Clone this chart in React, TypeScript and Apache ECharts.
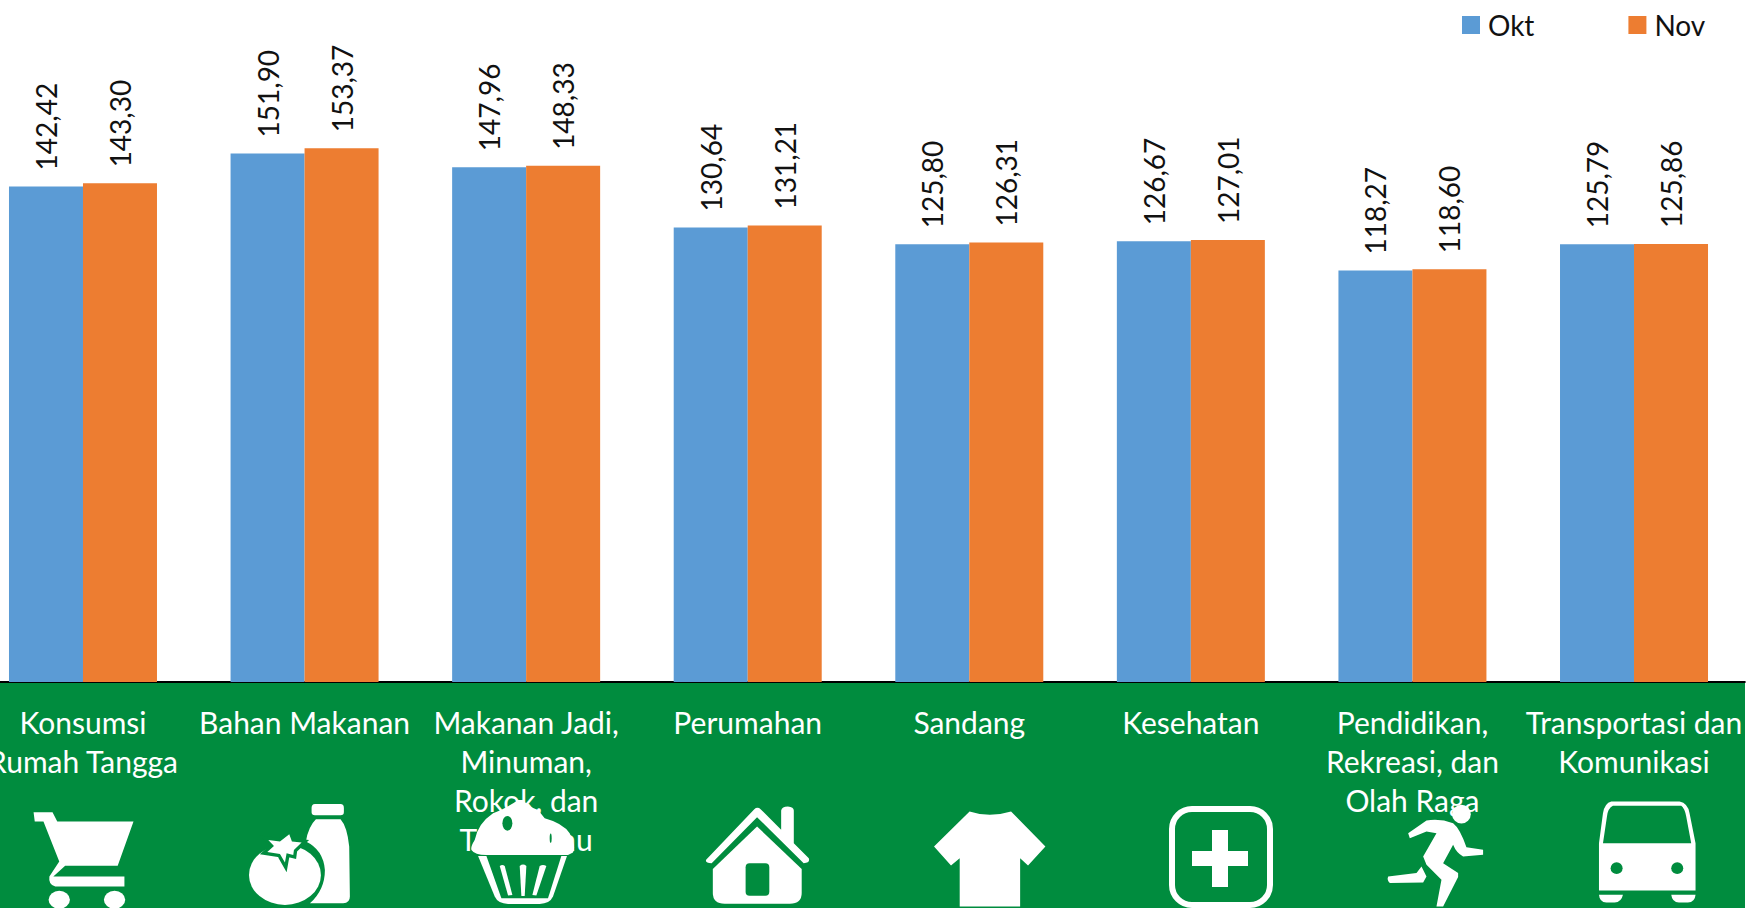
import React, { useEffect, useRef } from "react";
import * as echarts from "echarts";

const categories = [
  "Konsumsi\nRumah Tangga",
  "Bahan Makanan",
  "Makanan Jadi,\nMinuman,\nRokok, dan\nTembakau",
  "Perumahan",
  "Sandang",
  "Kesehatan",
  "Pendidikan,\nRekreasi, dan\nOlah Raga",
  "Transportasi dan\nKomunikasi",
];
const okt = [142.42, 151.9, 147.96, 130.64, 125.8, 126.67, 118.27, 125.79];
const nov = [143.3, 153.37, 148.33, 131.21, 126.31, 127.01, 118.6, 125.86];

const FONT = "Lato, Carlito, sans-serif";
const GREEN = "#008C3E";
const WHITE = "#ffffff";

const ellipse = (cx: number, cy: number, rx: number, ry: number) =>
  `M${cx - rx} ${cy}A${rx} ${ry} 0 1 0 ${cx + rx} ${cy}A${rx} ${ry} 0 1 0 ${cx - rx} ${cy}Z`;

type Layer = { d: string; fill: string; stroke?: string; lineWidth?: number };
type Icon = { ox: number; oy: number; sx: number; sy: number; layers: Layer[] };

const S1 = 620 / 1568;
const S3 = 1 / 3;
const STAR = "M178 133L186 155L215 158L192 180L190 195L170 190L165 218L150 192L112 186L132 168L115 150L150 155Z";

const icons: Icon[] = [
  {
    ox: 0, oy: 660, sx: S1, sy: S3,
    layers: [
      { d: "M85 457L133 457L145 485L338 485L298 618L165 618L135 650L315 650L315 680L140 680Q122 675 125 650L150 605L110 485L88 485Z", fill: WHITE },
      { d: ellipse(150, 720, 27, 27), fill: WHITE },
      { d: ellipse(290, 720, 27, 27), fill: WHITE },
    ],
  },
  {
    ox: 230, oy: 790, sx: S3, sy: S3,
    layers: [
      { d: "M255 42L332 42Q342 42 342 54L342 66Q342 76 332 76L255 76Q245 76 245 66L245 54Q245 42 255 42Z", fill: WHITE },
      { d: "M258 88L332 88Q352 110 358 170L360 320Q360 340 340 340L240 340Q285 300 285 240Q280 180 228 155Q235 110 258 88Z", fill: WHITE },
      { d: ellipse(165, 255, 108, 90), fill: WHITE },
      { d: STAR, fill: WHITE, stroke: GREEN, lineWidth: 20 },
      { d: STAR, fill: WHITE },
    ],
  },
  {
    ox: 230, oy: 790, sx: S3, sy: S3,
    layers: [
      { d: "M725 180Q722 170 735 150Q745 100 790 70Q830 55 865 30L880 30Q895 50 925 60L945 85Q1000 100 1020 130Q1040 170 1030 188L1015 195L770 195Q735 195 725 180Z", fill: WHITE },
      { d: ellipse(833, 100, 15, 22), fill: GREEN },
      { d: ellipse(963, 145, 3, 14), fill: GREEN },
      { d: "M745 198L1012 198L970 320Q960 342 930 342L835 342Q805 342 795 320Z", fill: WHITE },
      { d: "M770 198L995 198L955 325L815 325Z", fill: GREEN },
      { d: "M810 228Q818 222 825 228L848 315L835 317Z", fill: WHITE },
      { d: "M870 228Q880 220 890 228L885 318L875 318Z", fill: WHITE },
      { d: "M930 228Q940 222 950 228L920 317L908 315Z", fill: WHITE },
    ],
  },
  {
    ox: 620, oy: 660, sx: S1, sy: S3,
    layers: [
      { d: "M218 600L340 448Q348 440 356 448L408 510L408 452Q410 440 425 440Q440 442 440 452L440 550L478 595Q482 610 465 610L347 472L232 610Q215 610 218 600Z", fill: WHITE },
      { d: "M347 500L460 628L460 700Q460 732 430 732L265 732Q235 732 235 700L235 628Z", fill: WHITE },
      { d: "M328 610L368 610Q378 610 378 622L378 696Q378 708 368 708L328 708Q318 708 318 696L318 622Q318 610 328 610Z", fill: GREEN },
    ],
  },
  {
    ox: 620, oy: 660, sx: S1, sy: S3,
    layers: [
      { d: "M885 455Q935 475 990 455L1077 560L1033 617L1013 595L1013 740L860 740L860 595L838 617L795 560Z", fill: WHITE },
    ],
  },
  {
    ox: 1240, oy: 660, sx: S3, sy: S3,
    layers: [
      { d: "M505 520L560 482Q600 475 640 490Q660 505 680 562L730 570L730 585L670 590Q650 580 640 555L610 610L655 640L655 652L610 740L590 740L605 660L560 615L550 590L590 520L560 515L510 535Z", fill: WHITE },
      { d: "M445 650L530 640L545 620L560 650L550 668L450 670Q440 660 445 650Z", fill: WHITE },
      { d: ellipse(665, 463, 28, 28), fill: WHITE },
    ],
  },
  {
    ox: 1240, oy: 660, sx: S3, sy: S3,
    layers: [
      { d: "M1115 425L1320 425Q1345 430 1350 460L1368 550L1368 692L1078 692L1078 550L1090 460Q1095 430 1115 425Z", fill: WHITE },
      { d: "M1120 438L1325 438Q1335 445 1340 470L1355 550L1090 550L1102 470Q1105 445 1120 438Z", fill: GREEN },
      { d: ellipse(1131, 625, 18, 18), fill: GREEN },
      { d: ellipse(1313, 625, 18, 18), fill: GREEN },
      { d: "M1078 705L1150 705Q1145 728 1125 728L1100 728Q1080 728 1078 705Z", fill: WHITE },
      { d: "M1295 705L1368 705Q1366 728 1345 728L1318 728Q1298 728 1295 705Z", fill: WHITE },
    ],
  },
];

function iconGraphics() {
  const out: any[] = [];
  icons.forEach((icon, i) => {
    icon.layers.forEach((layer, j) => {
      const name = `icon-${i}-${j}`;
      echarts.graphic.registerShape(name, echarts.graphic.extendPath(layer.d, {}) as any);
      out.push({
        type: name,
        x: icon.ox,
        y: icon.oy,
        scaleX: icon.sx,
        scaleY: icon.sy,
        z: 100,
        z2: j,
        silent: true,
        style: { fill: layer.fill, stroke: layer.stroke, lineWidth: layer.lineWidth ?? 0 },
      });
    });
  });
  return out;
}

export default function App() {
  const ref = useRef<HTMLDivElement>(null);
  useEffect(() => {
    const chart = echarts.init(ref.current!, undefined, { renderer: "svg" });
    const label = {
      show: true,
      position: "top",
      rotate: 90,
      align: "left",
      verticalAlign: "middle",
      distance: 15,
      offset: [1, 0],
      color: "#111111",
      fontFamily: FONT,
      fontSize: 28,
      formatter: (p: any) => p.value.toFixed(2).replace(".", ","),
    };
    chart.setOption({
      animation: false,
      backgroundColor: "#ffffff",
      textStyle: { fontFamily: FONT },
      grid: { left: -27.8, top: 0, width: 1772.6, height: 682, containLabel: false, outerBoundsMode: "none" },
      legend: {
        left: 1457,
        top: 6,
        itemWidth: 18,
        itemHeight: 18,
        itemGap: 94,
        icon: "rect",
        textStyle: { fontFamily: FONT, fontSize: 28, color: "#111111", padding: [0, 0, 0, 3] },
        data: ["Okt", "Nov"],
      },
      xAxis: {
        type: "category",
        data: categories,
        axisLine: { show: true, lineStyle: { color: "#000000", width: 2 } },
        axisTick: { show: false },
        axisLabel: {
          interval: 0,
          color: "#ffffff",
          fontFamily: FONT,
          fontSize: 30,
          lineHeight: 39,
          margin: 20,
          align: "center",
          verticalAlign: "top",
          hideOverlap: false,
        },
      },
      yAxis: { type: "value", min: 0, max: 196, show: false, splitLine: { show: false } },
      series: [
        { name: "Okt", type: "bar", data: okt, barWidth: 74, barGap: "0%", itemStyle: { color: "#5B9BD5" }, label },
        { name: "Nov", type: "bar", data: nov, barWidth: 74, barGap: "0%", itemStyle: { color: "#ED7D31" }, label },
      ],
      graphic: [
        { type: "rect", shape: { x: 0, y: 682, width: 1745, height: 226 }, z: -1, silent: true, style: { fill: GREEN } },
        ...iconGraphics(),
        { type: "rect", shape: { x: 1172, y: 809, width: 98, height: 96, r: 20 }, z: 100, silent: true, style: { fill: "none", stroke: WHITE, lineWidth: 6 } },
        { type: "rect", shape: { x: 1212, y: 830, width: 16, height: 57 }, z: 100, silent: true, style: { fill: WHITE } },
        { type: "rect", shape: { x: 1192, y: 851, width: 56, height: 15 }, z: 100, silent: true, style: { fill: WHITE } },
      ],
    });
    return () => chart.dispose();
  }, []);
  return <div ref={ref} style={{ position: "absolute", left: 0, top: 0, width: 1746, height: 908, overflow: "hidden" }} />;
}
